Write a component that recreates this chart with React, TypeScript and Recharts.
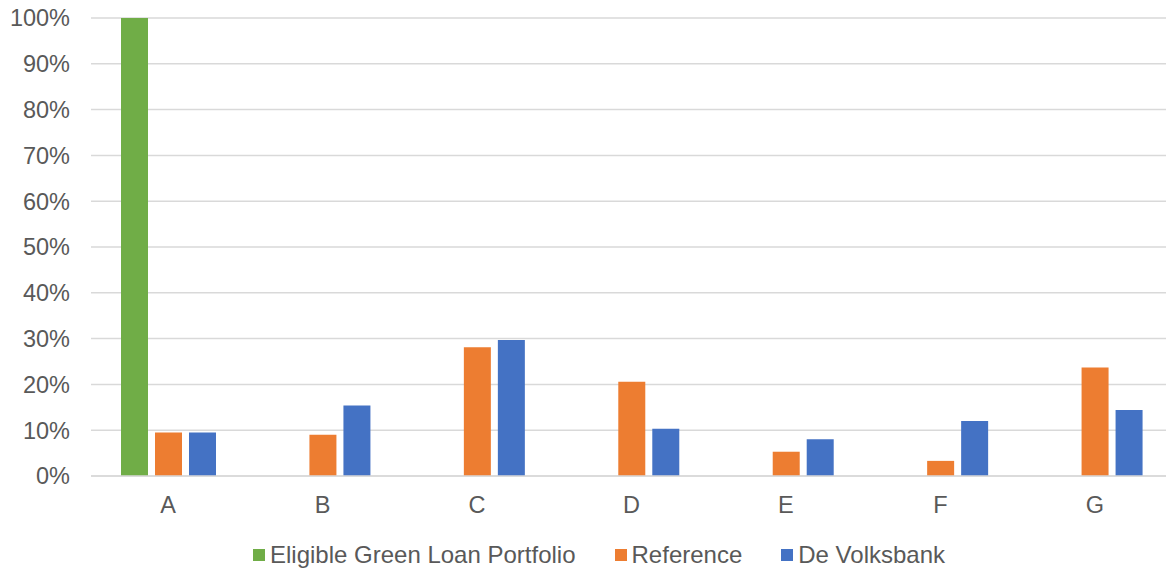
import React from 'react';
import { BarChart, Bar, XAxis, YAxis, CartesianGrid, Legend } from 'recharts';

const categories = ['A', 'B', 'C', 'D', 'E', 'F', 'G'];
const greenLoan = [100, null, null, null, null, null, null];
const reference = [9.5, 9.0, 28.1, 20.6, 5.3, 3.3, 23.7];
const volksbank = [9.5, 15.4, 29.7, 10.3, 8.0, 12.0, 14.4];
const yTicks = [0, 10, 20, 30, 40, 50, 60, 70, 80, 90, 100];

const SERIES = [
    { key: 'green', name: 'Eligible Green Loan Portfolio', color: '#70AD47' },
    { key: 'reference', name: 'Reference', color: '#ED7D31' },
    { key: 'volksbank', name: 'De Volksbank', color: '#4472C4' },
];

const data = categories.map((cat, i) => ({
    cat,
    green: greenLoan[i],
    reference: reference[i],
    volksbank: volksbank[i],
}));

const FONT = '"Liberation Sans", Arial, sans-serif';
const TEXT = '#595959';

const renderLegend = () => (
    <div style={{ display: 'flex', alignItems: 'center', paddingLeft: 253, paddingTop: 25, fontFamily: FONT, fontSize: 24, color: TEXT }}>
        {SERIES.map((s, i) => (
            <div key={s.key} style={{ display: 'flex', alignItems: 'center', marginRight: i < SERIES.length - 1 ? 39 : 0 }}>
                <span style={{ width: 12, height: 12, background: s.color, display: 'inline-block', marginRight: 5 }} />
                <span>{s.name}</span>
            </div>
        ))}
    </div>
);

export default function App() {
    return (
        <div style={{ position: 'absolute', left: 0, top: 0, width: 1166, height: 569, overflow: 'hidden', background: '#fff', fontFamily: FONT }}>
            <BarChart width={1172} height={569} data={data} margin={{ top: 18, right: 0, left: 0, bottom: 0 }} barSize={27} barGap={7}>
                <CartesianGrid vertical={false} stroke="#d9d9d9" strokeWidth={1.5} />
                <XAxis
                    dataKey="cat"
                    height={40}
                    tickLine={false}
                    axisLine={{ stroke: '#d9d9d9', strokeWidth: 1.5 }}
                    tick={{ fill: TEXT, fontSize: 23.5, fontFamily: FONT }}
                    tickMargin={14}
                />
                <YAxis
                    width={91}
                    domain={[0, 100]}
                    ticks={yTicks}
                    interval={0}
                    tickFormatter={(v: number) => `${v}%`}
                    tickLine={false}
                    axisLine={false}
                    tick={{ fill: TEXT, fontSize: 23.5, fontFamily: FONT }}
                    tickMargin={15}
                />
                <Legend verticalAlign="bottom" height={53} content={renderLegend} />
                {SERIES.map((s) => (
                    <Bar key={s.key} dataKey={s.key} name={s.name} fill={s.color} isAnimationActive={false} />
                ))}
            </BarChart>
        </div>
    );
}
